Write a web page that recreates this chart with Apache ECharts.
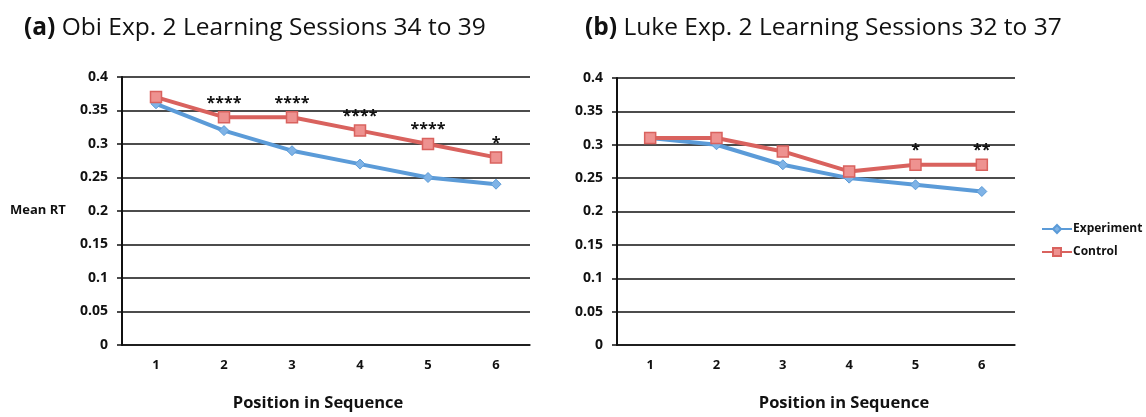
<!DOCTYPE html>
<html><head><meta charset="utf-8">
<script src="https://cdn.jsdelivr.net/npm/echarts@6/dist/echarts.min.js"></script>
<style>html,body{margin:0;padding:0;background:#fff}#c{width:1146px;height:417px}</style>
</head><body><div id="c"></div>
<script>
const categories = ['1','2','3','4','5','6'];
const obiExperiment = [0.36, 0.32, 0.29, 0.27, 0.25, 0.24];
const obiControl = [0.37, 0.34, 0.34, 0.32, 0.30, 0.28];
const obiStars = ['', '****', '****', '****', '****', '*'];
const lukeExperiment = [0.31, 0.30, 0.27, 0.25, 0.24, 0.23];
const lukeControl = [0.31, 0.31, 0.29, 0.26, 0.27, 0.27];
const lukeStars = ['', '', '', '', '*', '**'];
const titleA = 'Obi Exp. 2 Learning Sessions 34 to 39';
const titleB = 'Luke Exp. 2 Learning Sessions 32 to 37';

const FONT = '"Open Sans", sans-serif';
const BLUE = '#5B9BD8';
const RED = '#D9625E';

function yAxis(idx) {
  return {
    gridIndex: idx, type: 'value', min: 0, max: 0.4, interval: 0.05,
    axisLine: {show: true, lineStyle: {color: '#111', width: 2}},
    axisTick: {show: true, length: 5, lineStyle: {color: '#111', width: 1.5}},
    splitLine: {show: true, lineStyle: {color: '#111', width: 1.5}},
    axisLabel: {margin: 14, color: '#111', fontWeight: 'bold', fontSize: 14, fontFamily: FONT,
      formatter: v => String(+v.toFixed(2))}
  };
}
function xAxis(idx, namePad) {
  return {
    gridIndex: idx, type: 'category', data: categories, boundaryGap: true,
    axisLine: {show: true, lineStyle: {color: '#111', width: 1.5}},
    axisTick: {show: false},
    axisLabel: {margin: 14, color: '#111', fontWeight: 'bold', fontSize: 13, fontFamily: FONT},
    name: 'Position in Sequence', nameLocation: 'middle', nameGap: 50,
    nameTextStyle: {color: '#111', fontWeight: 'bold', fontSize: 16.5, fontFamily: FONT, padding: namePad}
  };
}
function expSeries(idx, data) {
  return {
    name: 'Experiment', type: 'line', xAxisIndex: idx, yAxisIndex: idx, data: data,
    symbol: 'diamond', symbolSize: 10,
    lineStyle: {color: BLUE, width: 4},
    itemStyle: {color: '#7FB3E6', borderColor: BLUE, borderWidth: 1},
    z: 3
  };
}
function ctlSeries(idx, data, stars) {
  return {
    name: 'Control', type: 'line', xAxisIndex: idx, yAxisIndex: idx, data: data,
    symbol: 'rect', symbolSize: 11,
    lineStyle: {color: RED, width: 4},
    itemStyle: {color: '#EE9290', borderColor: RED, borderWidth: 1.5},
    label: {show: true, position: 'top', distance: 0, color: '#111', fontWeight: 'bold',
      fontSize: 16, fontFamily: FONT, formatter: p => stars[p.dataIndex]},
    z: 4
  };
}

const chart = echarts.init(document.getElementById('c'));
chart.setOption({
  animation: false,
  backgroundColor: '#fff',
  title: [
    {text: '{b|(a)} ' + titleA, left: 19, top: 11,
     textStyle: {fontSize: 24.5, fontWeight: 'normal', color: '#111', fontFamily: FONT,
       rich: {b: {fontSize: 24.5, fontWeight: 'bold', color: '#111', fontFamily: FONT}}}},
    {text: '{b|(b)} ' + titleB, left: 580, top: 11,
     textStyle: {fontSize: 24.5, fontWeight: 'normal', color: '#111', fontFamily: FONT,
       rich: {b: {fontSize: 24.5, fontWeight: 'bold', color: '#111', fontFamily: FONT}}}}
  ],
  grid: [
    {left: 122, right: 616, top: 77, bottom: 67},
    {left: 617, right: 131, top: 78, bottom: 68}
  ],
  xAxis: [xAxis(0, [0, 16, 0, 0]), xAxis(1, [0, 0, 0, 56])],
  yAxis: [yAxis(0), yAxis(1)],
  legend: {
    orient: 'vertical', left: 1036, top: 218, itemGap: 11, itemWidth: 30, itemHeight: 10,
    data: ['Experiment', 'Control'],
    textStyle: {color: '#111', fontWeight: 'bold', fontSize: 12, fontFamily: FONT, padding: [0,0,0,-4]}
  },
  graphic: [
    {type: 'text', left: 10, top: 204,
     style: {text: 'Mean RT', fill: '#111', font: 'bold 13px ' + FONT}}
  ],
  series: [
    expSeries(0, obiExperiment), ctlSeries(0, obiControl, obiStars),
    expSeries(1, lukeExperiment), ctlSeries(1, lukeControl, lukeStars)
  ]
});
</script></body></html>
